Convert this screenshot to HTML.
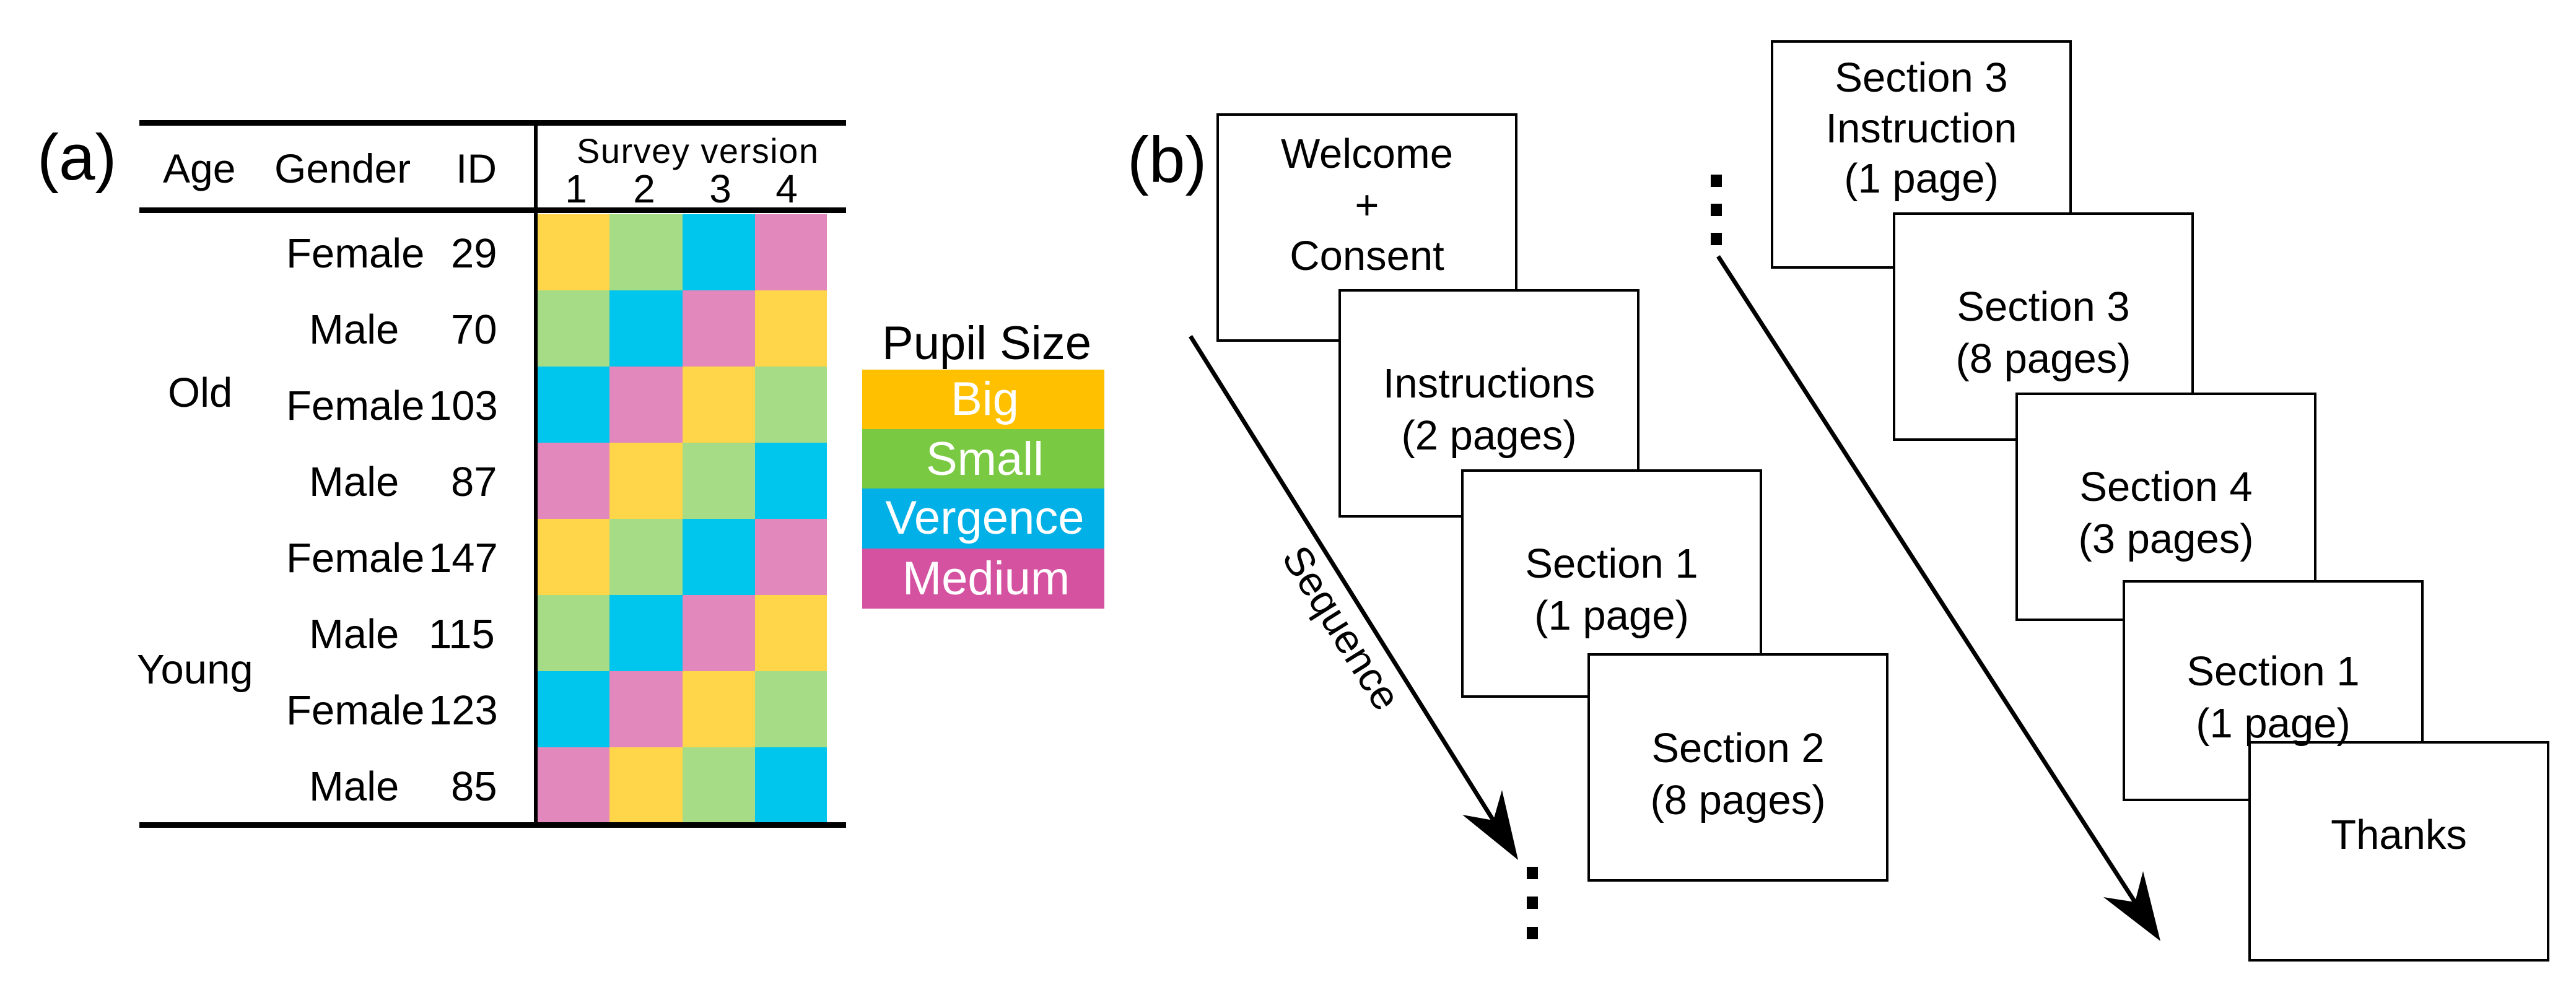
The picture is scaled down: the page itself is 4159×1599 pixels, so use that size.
<!DOCTYPE html>
<html><head><meta charset="utf-8"><style>
html,body{margin:0;padding:0;background:#fff;}
svg{display:block;}
text{font-family:"Liberation Sans",Arial,sans-serif;fill:#000;}
</style></head><body>
<svg width="4159" height="1599" viewBox="0 0 4159 1599" xmlns="http://www.w3.org/2000/svg">
<rect width="4159" height="1599" fill="#fff"/>
<text x="60" y="290" font-size="105">(a)</text>
<g>
<rect x="866" y="346" width="118" height="123" fill="#FFD54A"/><rect x="984" y="346" width="118" height="123" fill="#A5DC85"/><rect x="1102" y="346" width="117" height="123" fill="#00C5EC"/><rect x="1219" y="346" width="116" height="123" fill="#E288BD"/>
<rect x="866" y="469" width="118" height="123" fill="#A5DC85"/><rect x="984" y="469" width="118" height="123" fill="#00C5EC"/><rect x="1102" y="469" width="117" height="123" fill="#E288BD"/><rect x="1219" y="469" width="116" height="123" fill="#FFD54A"/>
<rect x="866" y="592" width="118" height="123" fill="#00C5EC"/><rect x="984" y="592" width="118" height="123" fill="#E288BD"/><rect x="1102" y="592" width="117" height="123" fill="#FFD54A"/><rect x="1219" y="592" width="116" height="123" fill="#A5DC85"/>
<rect x="866" y="715" width="118" height="123" fill="#E288BD"/><rect x="984" y="715" width="118" height="123" fill="#FFD54A"/><rect x="1102" y="715" width="117" height="123" fill="#A5DC85"/><rect x="1219" y="715" width="116" height="123" fill="#00C5EC"/>
<rect x="866" y="838" width="118" height="123" fill="#FFD54A"/><rect x="984" y="838" width="118" height="123" fill="#A5DC85"/><rect x="1102" y="838" width="117" height="123" fill="#00C5EC"/><rect x="1219" y="838" width="116" height="123" fill="#E288BD"/>
<rect x="866" y="961" width="118" height="123" fill="#A5DC85"/><rect x="984" y="961" width="118" height="123" fill="#00C5EC"/><rect x="1102" y="961" width="117" height="123" fill="#E288BD"/><rect x="1219" y="961" width="116" height="123" fill="#FFD54A"/>
<rect x="866" y="1084" width="118" height="123" fill="#00C5EC"/><rect x="984" y="1084" width="118" height="123" fill="#E288BD"/><rect x="1102" y="1084" width="117" height="123" fill="#FFD54A"/><rect x="1219" y="1084" width="116" height="123" fill="#A5DC85"/>
<rect x="866" y="1207" width="118" height="123" fill="#E288BD"/><rect x="984" y="1207" width="118" height="123" fill="#FFD54A"/><rect x="1102" y="1207" width="117" height="123" fill="#A5DC85"/><rect x="1219" y="1207" width="116" height="123" fill="#00C5EC"/>
</g>
<rect x="225" y="194" width="1141" height="9" fill="#000"/>
<rect x="225" y="335" width="1141" height="9" fill="#000"/>
<rect x="225" y="1328" width="1141" height="9" fill="#000"/>
<rect x="862" y="194" width="6" height="1143" fill="#000"/>
<text x="263" y="295" font-size="66">Age</text>
<text x="443" y="295" font-size="66">Gender</text>
<text x="736" y="295" font-size="66">ID</text>
<text x="931" y="263" font-size="56" textLength="390">Survey version</text>
<text x="930" y="327" font-size="64" text-anchor="middle">1</text>
<text x="1040" y="327" font-size="64" text-anchor="middle">2</text>
<text x="1163" y="327" font-size="64" text-anchor="middle">3</text>
<text x="1270" y="327" font-size="64" text-anchor="middle">4</text>
<g font-size="67">
<text x="462" y="432">Female</text><text x="728" y="432">29</text>
<text x="499" y="555">Male</text><text x="728" y="555">70</text>
<text x="462" y="678">Female</text><text x="692" y="678">103</text>
<text x="499" y="801">Male</text><text x="728" y="801">87</text>
<text x="462" y="924">Female</text><text x="692" y="924">147</text>
<text x="499" y="1047">Male</text><text x="692" y="1047">115</text>
<text x="462" y="1170">Female</text><text x="692" y="1170">123</text>
<text x="499" y="1293">Male</text><text x="728" y="1293">85</text>
<text x="271" y="657">Old</text>
<text x="221" y="1104">Young</text>
</g>
<text x="1424" y="580" font-size="76">Pupil Size</text>
<rect x="1392" y="597" width="391" height="97" fill="#FFC000"/>
<rect x="1392" y="693" width="391" height="97" fill="#7AC943"/>
<rect x="1392" y="789" width="391" height="98" fill="#00B0E6"/>
<rect x="1392" y="886" width="391" height="97" fill="#D452A0"/>
<g font-size="76" text-anchor="middle">
<text x="1590" y="670" style="fill:#fff">Big</text>
<text x="1590" y="767" style="fill:#fff">Small</text>
<text x="1590" y="862" style="fill:#fff">Vergence</text>
<text x="1592" y="960" style="fill:#fff">Medium</text>
</g>
<text x="1820" y="294" font-size="105">(b)</text>
<g fill="#fff" stroke="#000" stroke-width="4">
<rect x="1966" y="185" width="482" height="365"/>
<rect x="2163" y="469" width="482" height="365"/>
<rect x="2361" y="760" width="482" height="365"/>
<rect x="2565" y="1057" width="482" height="365"/>
<rect x="2861" y="67" width="482" height="365"/>
<rect x="3058" y="345" width="482" height="365"/>
<rect x="3256" y="636" width="482" height="365"/>
<rect x="3429" y="939" width="482" height="353"/>
<rect x="3632" y="1199" width="482" height="352"/>
</g>
<g font-size="67" text-anchor="middle">
<text x="2207" y="271">Welcome</text>
<text x="2207" y="354">+</text>
<text x="2207" y="436">Consent</text>
<text x="2404" y="642">Instructions</text>
<text x="2404" y="726">(2 pages)</text>
<text x="2602" y="933">Section 1</text>
<text x="2602" y="1017">(1 page)</text>
<text x="2806" y="1231">Section 2</text>
<text x="2806" y="1315">(8 pages)</text>
<text x="3102" y="148">Section 3</text>
<text x="3102" y="230">Instruction</text>
<text x="3102" y="311">(1 page)</text>
<text x="3299" y="518">Section 3</text>
<text x="3299" y="602">(8 pages)</text>
<text x="3497" y="809">Section 4</text>
<text x="3497" y="893">(3 pages)</text>
<text x="3670" y="1107">Section 1</text>
<text x="3670" y="1191">(1 page)</text>
<text x="3873" y="1371">Thanks</text>
</g>
<line x1="1922" y1="543" x2="2411" y2="1325" stroke="#000" stroke-width="7"/>
<path d="M2451,1389 L2361,1316 L2411,1325 L2425,1276 Z" fill="#000"/>
<line x1="2774" y1="414" x2="3447" y2="1457" stroke="#000" stroke-width="7"/>
<path d="M3488,1520 L3396,1449 L3447,1457 L3460,1407 Z" fill="#000"/>
<text x="0" y="0" font-size="66" transform="translate(2068,900) rotate(58)">Sequence</text>
<g fill="#000">
<rect x="2465" y="1400" width="18" height="20"/>
<rect x="2465" y="1448" width="18" height="20"/>
<rect x="2465" y="1497" width="18" height="20"/>
<rect x="2762" y="282" width="18" height="20"/>
<rect x="2762" y="329" width="18" height="20"/>
<rect x="2762" y="376" width="18" height="20"/>
</g>
</svg>
</body></html>
